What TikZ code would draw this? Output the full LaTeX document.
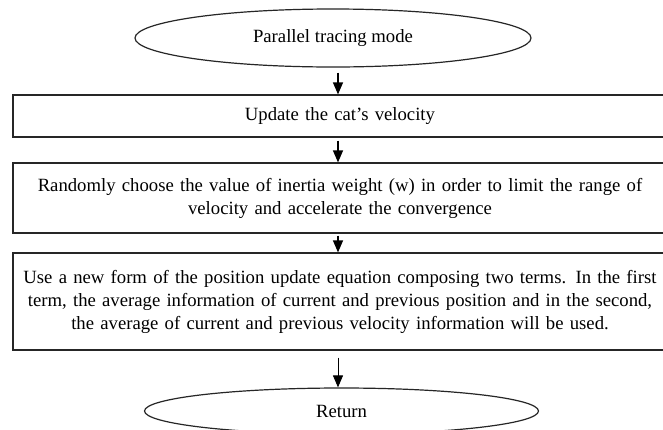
\documentclass[tikz,border=0pt]{standalone}
\usepackage{fontspec}
\setmainfont{Liberation Serif}
\usetikzlibrary{shapes.geometric,arrows.meta}

\tikzset{
  frame/.style={draw=black!85, line width=1.2pt},
  terminal/.style={frame, ellipse, inner sep=0pt},
  stepbox/.style={frame, rectangle, minimum width=654pt, inner sep=0pt,
    align=center, text width=650pt},
  flow/.style={draw=black, line width=1.3pt,
    -{Triangle[length=12pt,width=10pt]}},
  txt/.style={font=\fontsize{18.7}{23}\selectfont}
}

\begin{document}
\begin{tikzpicture}[x=1pt,y=-1pt]
  \useasboundingbox (0,0) rectangle (663,429);
  \clip (0,0) rectangle (663,429);
  \fill[white] (0,0) rectangle (663,429);

  % vertical line shared by all connectors
  \coordinate (axis) at (338,0);

  % start and end terminals
  \node[terminal, txt, minimum width=396pt, minimum height=58pt] (start) at (333,38) {Parallel tracing mode};
  \node[terminal, txt, minimum width=394pt, minimum height=46pt] (stop) at (341.5,411) {Return};

  % processing steps
  \node[stepbox, txt, minimum height=42pt] (s1) at (340,116) {Update the cat’s velocity};
  \node[stepbox, txt, minimum height=70pt] (s2) at (340,198)
    {Randomly choose the value of inertia weight (w) in order to limit the range of\\
     velocity and accelerate the convergence};
  \node[stepbox, txt, minimum height=97pt] (s3) at (340,301.5)
    {Use a new form of the position update equation composing two terms. In the first\\
     term, the average information of current and previous position and in the second,\\
     the average of current and previous velocity information will be used.};

  % connectors
  \draw[flow, shorten <=5pt] (start.south -| axis) -- (s1.north -| axis);
  \draw[flow, shorten <=3pt] (s1.south -| axis) -- (s2.north -| axis);
  \draw[flow, shorten <=2pt] (s2.south -| axis) -- (s3.north -| axis);
  \draw[flow, line width=1pt, shorten <=7pt] (s3.south -| axis) -- (stop.north -| axis);
\end{tikzpicture}
\end{document}
